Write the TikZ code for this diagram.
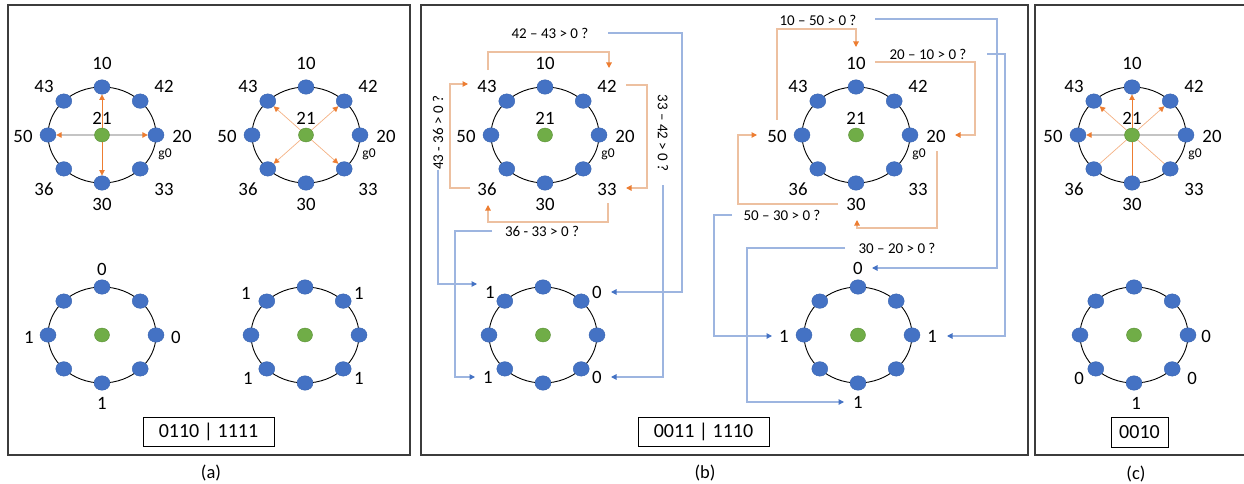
\documentclass[tikz,border=0pt]{standalone}
\usepackage{fontspec}
\setmainfont{Carlito}
\usetikzlibrary{calc,arrows.meta,shapes.geometric}
\pgfdeclarelayer{bg}
\pgfsetlayers{bg,main}
\definecolor{nblue}{HTML}{4472C4}
\definecolor{nblueD}{HTML}{3A65B0}
\definecolor{ngreen}{HTML}{70AD47}
\definecolor{ngreenD}{HTML}{5A8F37}
\definecolor{ornT}{HTML}{ED7D31}
\definecolor{ornL}{HTML}{EDC0A0}
\definecolor{ornD}{HTML}{F4B183}
\definecolor{bluL}{HTML}{9DB5E0}
\definecolor{grayL}{HTML}{C4C4C4}
\definecolor{frameC}{HTML}{3C3C3C}
\tikzset{
  bnode/.style={ellipse,fill=nblue,draw=nblueD,line width=0.4pt,minimum width=16pt,minimum height=14.5pt,inner sep=0pt},
  gnode/.style={ellipse,fill=ngreen,draw=ngreenD,line width=0.4pt,minimum width=15pt,minimum height=14pt,inner sep=0pt},
  ringline/.style={draw=black,line width=0.9pt},
  lbl/.style={font=\fontsize{18.8}{19}\selectfont,inner sep=1pt},
  qlbl/.style={font=\fontsize{15}{16}\selectfont,inner sep=1pt},
  glbl/.style={font=\fontsize{13.5}{14}\selectfont,inner sep=0pt},
  tipO/.tip={Triangle[length=5.5pt,width=5.5pt,color=ornT]},
  tipB/.tip={Triangle[length=5.5pt,width=5.5pt,color=nblue]},
  varr/.style={draw=ornT,line width=0.8pt,-tipO},
  vline/.style={draw=ornT,line width=0.8pt},
  darr/.style={draw=ornD,line width=0.7pt,-tipO},
  dline/.style={draw=ornD,line width=0.7pt},
  harr/.style={draw=grayL,line width=1.2pt,-tipO},
  hline/.style={draw=grayL,line width=1.2pt},
  oconn/.style={draw=ornL,line width=1.1pt,-tipO},
  bconn/.style={draw=bluL,line width=1.1pt,-tipB},
  panel/.style={draw=frameC,line width=1.1pt},
  codebox/.style={draw=black,line width=0.9pt,font=\fontsize{20}{21}\selectfont,inner sep=0pt},
  caplbl/.style={font=\fontsize{18.5}{19}\selectfont,inner sep=1pt}
}
\newcommand\ringat[3]{%
  \node[gnode] (#1c) at (#2,#3) {};
  \node[bnode] (#1n) at (#2,#3-48) {};
  \node[bnode] (#1s) at (#2,#3+48) {};
  \node[bnode] (#1e) at (#2+54,#3) {};
  \node[bnode] (#1w) at (#2-54,#3) {};
  \node[bnode] (#1ne) at (#2+38.2,#3-33.9) {};
  \node[bnode] (#1nw) at (#2-38.2,#3-33.9) {};
  \node[bnode] (#1se) at (#2+38.2,#3+33.9) {};
  \node[bnode] (#1sw) at (#2-38.2,#3+33.9) {};
  \begin{pgfonlayer}{bg}\draw[ringline] (#1c.center) ellipse [x radius=54pt, y radius=48pt];\end{pgfonlayer}%
}
\newcommand\ringlabels[3]{%
  \node[lbl] (#1t10) at (#2,#3-72) {10};
  \node[lbl] (#1t43) at (#2-58,#3-49) {43};
  \node[lbl] (#1t42) at (#2+62,#3-49) {42};
  \node[lbl] (#1t50) at (#2-79,#3+1) {50};
  \node[lbl] (#1t20) at (#2+80,#3+1) {20};
  \node[glbl] (#1tg0) at (#2+63,#3+19) {g0};
  \node[lbl] (#1t36) at (#2-58,#3+54) {36};
  \node[lbl] (#1t33) at (#2+62,#3+54) {33};
  \node[lbl] (#1t30) at (#2,#3+69) {30};
  \node[lbl] (#1t21) at (#2,#3-17) {21};
}
\begin{document}
\begin{tikzpicture}[x=1pt,y=-1pt]
\useasboundingbox (0,0) rectangle (1244,484);
% panels
\draw[panel] (8,5) rectangle (410,455);
\draw[panel] (421,5) rectangle (1028,455);
\draw[panel] (1260,5) -- (1035,5) -- (1035,455) -- (1260,455);

% ===== panel (a) =====
\ringat{aT}{102}{135}
\ringlabels{aT}{102}{135}
\begin{pgfonlayer}{bg}
\draw[varr] (aTc.center) -- (aTn);
\draw[varr] (aTc.center) -- (aTs);
\draw[harr] (aTc.center) -- (aTw);
\draw[harr] (aTc.center) -- (aTe);
\end{pgfonlayer}

\ringat{aU}{306}{135}
\ringlabels{aU}{306}{135}
\begin{pgfonlayer}{bg}
\draw[darr] (aUc.center) -- (aUnw);
\draw[darr] (aUc.center) -- (aUne);
\draw[darr] (aUc.center) -- (aUsw);
\draw[darr] (aUc.center) -- (aUse);
\end{pgfonlayer}

\ringat{aB}{102}{335}
\node[lbl] (aB0t) at (102,269) {0};
\node[lbl] (aB1l) at (29,337) {1};
\node[lbl] (aB0r) at (176,337) {0};
\node[lbl] (aB1b) at (102,403) {1};

\ringat{aC}{305}{335}
\node[lbl] (aC1a) at (246,293) {1};
\node[lbl] (aC1b) at (359,293) {1};
\node[lbl] (aC1c) at (248,378) {1};
\node[lbl] (aC1d) at (359,378) {1};

\node[codebox,minimum width=131pt,minimum height=29pt] (boxA) at (208.5,431.5) {0110 | 1111};
\node[caplbl] (capA) at (211,473) {(a)};

% ===== panel (b) =====
\ringat{bL}{545}{135}
\ringlabels{bL}{545}{135}
\node[qlbl] (q1) at (550,33) {42 – 43 > 0 ?};
\node[qlbl,rotate=-90] (q2) at (663,133) {33 – 42 > 0 ?};
\node[qlbl] (q3) at (542,231) {36 - 33 > 0 ?};
\node[qlbl,rotate=90] (q4) at (438,133) {43 - 36 > 0 ?};
\draw[oconn] ($(bLt43)+(1,-16)$) -- ++(0,-18) -| ($(bLt42)+(2,-18)$);
\draw[oconn] ($(bLt42)+(19,-1)$) -- ++(21,0) |- ($(bLt33)+(19,-1)$);
\draw[oconn] ($(bLt33)+(1,14)$) -- ++(0,19) -| ($(bLt36)+(1,16)$);
\draw[oconn] ($(bLt36)+(-17,-1)$) -- ++(-20,0) |- ($(bLt43)+(-19,-2)$);

\ringat{bB}{543}{335}
\node[lbl] (bB1a) at (490,292) {1};
\node[lbl] (bB0a) at (597,292) {0};
\node[lbl] (bB1b) at (488,377) {1};
\node[lbl] (bB0b) at (597,377) {0};
\draw[bconn] ($(q1)+(58,0)$) -- ++(74,0) |- ($(bB0a)+(14,0)$);
\draw[bconn] ($(q2)+(0,52)$) |- ($(bB0b)+(14,0)$);
\draw[bconn] ($(q4)+(0,37)$) |- ($(bB1a)+(-13,-8)$);
\draw[bconn] ($(q3)+(-50,0)$) -- ++(-37,0) |- ($(bB1b)+(-13,0)$);

\ringat{bR}{856}{135}
\ringlabels{bR}{856}{135}
\node[qlbl] (r1) at (818,20) {10 – 50 > 0 ?};
\node[qlbl] (r2) at (928,54) {20 – 10 > 0 ?};
\node[qlbl] (r3) at (897,248) {30 – 20 > 0 ?};
\node[qlbl] (r4) at (782,215) {50 – 30 > 0 ?};
\draw[oconn] ($(bRt50)+(0,-16)$) -- ++(0,-91) -| ($(bRt10)+(0,-16)$);
\draw[oconn] ($(bRt10)+(19,-1)$) -- ++(100,0) |- ($(bRt20)+(19,-1)$);
\draw[oconn] ($(bRt20)+(1,15)$) -- ++(0,77) -| ($(bRt30)+(1,16)$);
\draw[oconn] ($(bRt30)+(-18,0)$) -- ++(-100,0) |- ($(bRt50)+(-20,-1)$);

\ringat{bS}{858}{335}
\node[lbl] (bS0) at (858,268) {0};
\node[lbl] (bS1l) at (784,336) {1};
\node[lbl] (bS1r) at (932,336) {1};
\node[lbl] (bS1b) at (858,402) {1};
\draw[bconn] ($(r1)+(57,-1)$) -- ++(122,0) |- ($(bS0)+(14,0)$);
\draw[bconn] ($(r2)+(59,0)$) -- ++(18,0) |- ($(bS1r)+(15,0)$);
\draw[bconn] ($(r4)+(-50,0)$) -- ++(-18,0) |- ($(bS1l)+(-12,0)$);
\draw[bconn] ($(r3)+(-52,0)$) -- ++(-98,0) |- ($(bS1b)+(-14,0)$);

\node[codebox,minimum width=131pt,minimum height=29pt] (boxB) at (703.5,431.5) {0011 | 1110};
\node[caplbl] (capB) at (705,473) {(b)};

% ===== panel (c) =====
\ringat{cT}{1132}{135}
\ringlabels{cT}{1132}{135}
\begin{pgfonlayer}{bg}
\draw[varr] (cTc.center) -- (cTn);
\draw[vline] (cTc.center) -- (cTs);
\draw[darr] (cTc.center) -- (cTnw);
\draw[darr] (cTc.center) -- (cTne);
\draw[dline] (cTc.center) -- (cTsw);
\draw[dline] (cTc.center) -- (cTse);
\draw[harr] (cTc.center) -- (cTw);
\draw[hline] (cTc.center) -- (cTe);
\end{pgfonlayer}

\ringat{cB}{1134}{335}
\node[lbl] (cB0r) at (1206,336) {0};
\node[lbl] (cB0l) at (1079,378) {0};
\node[lbl] (cB0d) at (1192,378) {0};
\node[lbl] (cB1b) at (1136,403) {1};

\node[codebox,minimum width=57pt,minimum height=30pt] (boxC) at (1139.5,432) {0010};
\node[caplbl] (capC) at (1136,474) {(c)};
\end{tikzpicture}
\end{document}
